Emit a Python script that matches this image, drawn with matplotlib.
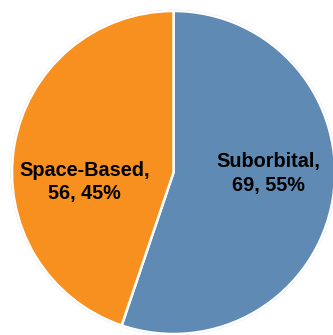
import matplotlib
matplotlib.use("Agg")
import matplotlib.pyplot as plt
from matplotlib.patches import Circle

categories = ["Suborbital", "Space-Based"]
values = [69, 56]
percents = [55, 45]
colors = ["#5f8ab4", "#f7901e"]

W, H = 333, 335
fig = plt.figure(figsize=(W / 100, H / 100), dpi=100)
ax = fig.add_axes([0, 0, 1, 1])

cx, cy, r = 173.5, H - 172.5, 161.5
outline = Circle((cx, cy), r + 0.8, facecolor="none", edgecolor="#d0d0d0", lw=0.8, zorder=0)
ax.add_patch(outline)
ax.pie(values, colors=colors, startangle=90, counterclock=False,
       radius=r, center=(cx, cy), frame=True,
       wedgeprops=dict(edgecolor="white", linewidth=1.8))
ax.set_xlim(0, W)
ax.set_ylim(0, H)
ax.set_aspect("equal")
ax.axis("off")

label_pos = [(268.5, H - 152), (84.5, H - 161)]
for cat, v, p, (x, y) in zip(categories, values, percents, label_pos):
    ax.text(x, y, f"{cat},\n{v}, {p}%", ha="center", va="top",
            fontsize=14.3, fontweight="bold", family="Liberation Sans",
            color="black", linespacing=1.3)

fig.savefig("out.png", dpi=100)
